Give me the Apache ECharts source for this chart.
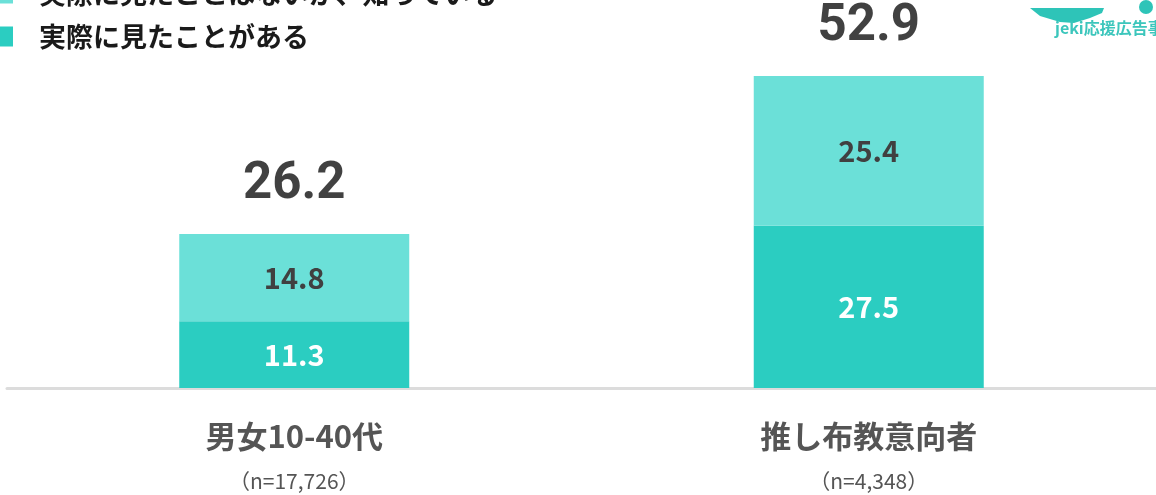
<!DOCTYPE html>
<html>
<head>
<meta charset="utf-8">
<script src="https://cdn.jsdelivr.net/npm/echarts@6/dist/echarts.min.js"></script>
<style>
  html, body { margin: 0; padding: 0; background: #fff; }
  #chart { width: 1156px; height: 495px; }
</style>
</head>
<body>
<div id="chart"></div>
<script>
// data
const categories = ['男女10-40代', '推し布教意向者'];
const sampleSizes = ['（n=17,726）', '（n=4,348）'];
const seenValues = [11.3, 27.5];        // 実際に見たことがある
const knownValues = [14.8, 25.4];       // 実際に見たことはないが、知っている
const totals = [26.2, 52.9];
const seenName = '実際に見たことがある';
const knownName = '実際に見たことはないが、知っている';

const jp = '"Noto Sans CJK JP", "Noto Sans", sans-serif';
const darkTeal = '#2bcdc1';
const lightTeal = '#6be0d8';

const chart = echarts.init(document.getElementById('chart'));

chart.setOption({
  animation: false,
  backgroundColor: '#fff',
  grid: { left: 7, right: -2, top: 34, bottom: 107 },
  legend: {
    data: [knownName, seenName],
    orient: 'vertical',
    left: -6,
    top: -25,
    itemWidth: 14,
    itemHeight: 20,
    itemGap: 16,
    icon: 'rect',
    selectedMode: false,
    textStyle: {
      fontFamily: jp,
      fontSize: 27,
      fontWeight: 'bold',
      color: '#1a1a1a',
      padding: [0, 0, 0, 21]
    }
  },
  xAxis: {
    type: 'category',
    data: categories,
    axisTick: { show: false },
    axisLine: { lineStyle: { color: '#dcdcdc', width: 3 } },
    axisLabel: {
      margin: 26,
      formatter: (v, i) => '{a|' + v + '}\n{b|' + sampleSizes[i] + '}',
      rich: {
        a: { fontFamily: jp, fontSize: 31, fontWeight: 'bold', color: '#555', lineHeight: 45 },
        b: { fontFamily: jp, fontSize: 21, color: '#555', lineHeight: 45 }
      }
    }
  },
  yAxis: { type: 'value', min: 0, max: 60, show: false, splitLine: { show: false } },
  series: [
    {
      name: seenName,
      type: 'bar',
      stack: 'total',
      barWidth: 230,
      itemStyle: { color: darkTeal },
      label: {
        show: true,
        position: 'inside',
        fontFamily: jp,
        fontSize: 29,
        fontWeight: 'bold',
        color: '#fff'
      },
      data: seenValues
    },
    {
      name: knownName,
      type: 'bar',
      stack: 'total',
      barWidth: 230,
      itemStyle: { color: lightTeal },
      label: {
        show: true,
        position: 'inside',
        fontFamily: jp,
        fontSize: 29,
        fontWeight: 'bold',
        color: '#404040'
      },
      data: knownValues
    },
    {
      name: 'total',
      type: 'scatter',
      symbolSize: 0,
      silent: true,
      itemStyle: { color: '#000' },
      label: {
        show: true,
        position: 'top',
        distance: 23,
        fontFamily: 'Roboto, "Liberation Sans", sans-serif',
        fontSize: 51,
        fontWeight: 'bold',
        color: '#111',
        formatter: p => p.value.toFixed(1)
      },
      data: totals
    }
  ],
  graphic: [
    {
      type: 'group',
      left: 1030,
      top: 0,
      silent: true,
      children: [
        {
          type: 'polygon',
          shape: { points: [[0, -4], [10, 4], [30, 10], [44, 11], [60, 6], [72, 1], [74, -4]] },
          style: { fill: '#2ec4b8' }
        },
        {
          type: 'circle',
          shape: { cx: 116, cy: -5, r: 7 },
          style: { fill: '#2ec4b8' }
        },
        {
          type: 'text',
          x: 25,
          y: 8,
          style: {
            text: 'jeki応援広告事務局',
            fontFamily: jp,
            fontSize: 16,
            fontWeight: 'bold',
            fill: '#3cc6bc'
          }
        }
      ]
    }
  ]
});
</script>
</body>
</html>
